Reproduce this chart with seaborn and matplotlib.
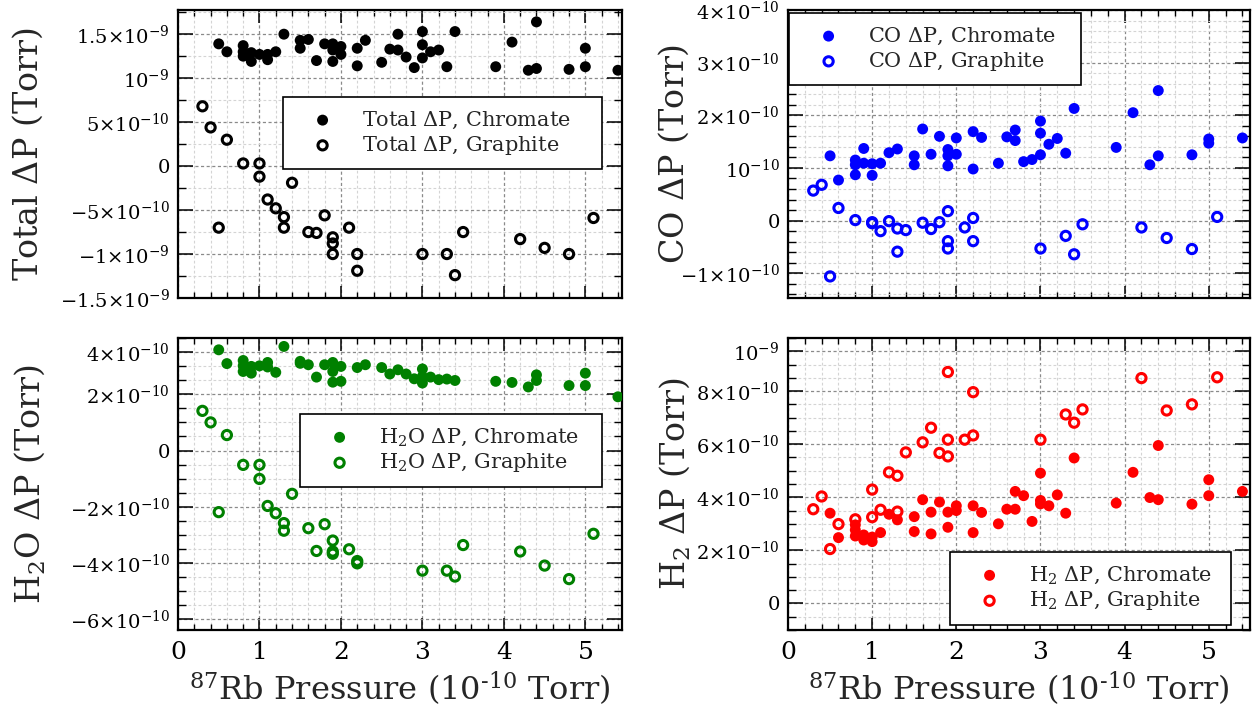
import matplotlib
matplotlib.use("Agg")
import matplotlib.pyplot as plt
from matplotlib.ticker import MultipleLocator
import seaborn as sns
import pandas as pd

sns.set_style("white")
plt.rcParams['font.family'] = ['DejaVu Serif']
plt.rcParams['mathtext.fontset'] = 'dejavuserif'

# x: 87Rb pressure (1e-10 Torr); y values in units of 1e-10 Torr
total_chr_x = [0.5, 0.6, 0.8, 0.8, 0.8, 0.9, 0.9, 1.0, 1.1, 1.1, 1.2, 1.3, 1.5, 1.5, 1.6, 1.7, 1.8, 1.9, 1.9, 1.9,
               2.0, 2.0, 2.2, 2.2, 2.3, 2.5, 2.6, 2.7, 2.7, 2.8, 2.9, 3.0, 3.0, 3.0, 3.1, 3.2, 3.3, 3.4, 3.9, 4.1,
               4.3, 4.4, 4.4, 4.8, 5.0, 5.0, 5.4]
total_chr_y = [13.9, 13.0, 13.7, 13.0, 12.5, 12.9, 11.9, 12.7, 12.7, 12.1, 13.0, 15.0, 14.3, 13.4, 14.4, 12.0, 13.9,
               13.9, 13.2, 11.9, 13.6, 12.7, 13.4, 11.4, 14.3, 11.8, 13.3, 15.0, 13.2, 12.4, 11.2, 15.3, 13.8, 12.3,
               13.0, 13.2, 11.3, 15.3, 11.3, 14.1, 10.9, 16.4, 11.1, 11.0, 13.4, 11.3, 10.9]
gra_x = [0.3, 0.4, 0.5, 0.6, 0.8, 1.0, 1.0, 1.1, 1.2, 1.3, 1.3, 1.4, 1.6, 1.7, 1.8, 1.9, 1.9, 1.9, 2.1, 2.2, 2.2,
         3.0, 3.3, 3.4, 3.5, 4.2, 4.5, 4.8, 5.1]
total_gra_y = [6.8, 4.4, -7.0, 3.0, 0.3, 0.3, -1.2, -3.8, -4.8, -5.8, -7.0, -1.9, -7.5, -7.6, -5.6, -8.1, -8.8,
               -10.0, -7.0, -10.0, -11.9, -10.0, -10.0, -12.4, -7.5, -8.3, -9.3, -10.0, -5.9]

co_chr_x = [0.5, 0.6, 0.8, 0.8, 0.8, 0.9, 0.9, 1.0, 1.0, 1.1, 1.2, 1.3, 1.5, 1.5, 1.6, 1.7, 1.8, 1.9, 1.9, 1.9,
            2.0, 2.0, 2.2, 2.2, 2.3, 2.5, 2.6, 2.7, 2.7, 2.8, 2.9, 3.0, 3.0, 3.0, 3.1, 3.2, 3.3, 3.4, 3.9, 4.1,
            4.3, 4.4, 4.4, 4.8, 5.0, 5.0, 5.4]
co_chr_y = [1.23, 0.77, 1.15, 1.06, 0.87, 1.37, 1.09, 1.08, 0.86, 1.09, 1.29, 1.36, 1.23, 1.06, 1.74, 1.26, 1.60,
            1.35, 1.23, 1.04, 1.57, 1.26, 1.69, 0.98, 1.58, 1.09, 1.59, 1.72, 1.52, 1.12, 1.16, 1.89, 1.66, 1.25,
            1.45, 1.56, 1.28, 2.13, 1.39, 2.05, 1.06, 2.47, 1.23, 1.25, 1.55, 1.47, 1.57]
co_gra_y = [0.57, 0.68, -1.06, 0.24, 0.01, -0.03, -0.05, -0.20, -0.01, -0.15, -0.59, -0.18, -0.04, -0.16, -0.03,
            0.18, -0.39, -0.53, -0.13, 0.05, -0.39, -0.53, -0.29, -0.64, -0.07, -0.13, -0.33, -0.54, 0.07]

h2o_chr_x = [0.5, 0.6, 0.8, 0.8, 0.8, 0.9, 0.9, 1.0, 1.1, 1.1, 1.2, 1.3, 1.5, 1.5, 1.6, 1.7, 1.8, 1.9, 1.9, 1.9,
             2.0, 2.0, 2.2, 2.3, 2.5, 2.6, 2.7, 2.8, 2.9, 3.0, 3.0, 3.0, 3.1, 3.2, 3.3, 3.4, 3.9, 4.1, 4.3, 4.4,
             4.4, 4.8, 5.0, 5.0, 5.4]
h2o_chr_y = [3.58, 3.09, 3.20, 3.01, 2.81, 2.99, 2.75, 3.01, 3.13, 2.97, 2.78, 3.70, 3.17, 3.10, 3.05, 2.61, 3.05,
             3.13, 2.81, 2.43, 2.99, 2.46, 2.95, 3.05, 2.95, 2.72, 2.87, 2.72, 2.55, 2.90, 2.63, 2.40, 2.61, 2.52,
             2.54, 2.49, 2.46, 2.42, 2.26, 2.69, 2.49, 2.31, 2.75, 2.31, 1.91]
h2o_gra_y = [1.41, 1.00, -2.19, 0.55, -0.51, -0.51, -1.01, -1.97, -2.23, -2.58, -2.85, -1.54, -2.76, -3.57, -2.62,
             -3.20, -3.59, -3.67, -3.51, -3.93, -4.01, -4.27, -4.27, -4.48, -3.36, -3.59, -4.09, -4.57, -2.96]

h2_chr_x = [0.5, 0.6, 0.8, 0.8, 0.8, 0.9, 0.9, 1.0, 1.0, 1.1, 1.2, 1.3, 1.5, 1.5, 1.6, 1.7, 1.7, 1.8, 1.9, 1.9,
            2.0, 2.0, 2.2, 2.2, 2.3, 2.5, 2.6, 2.7, 2.7, 2.8, 2.9, 3.0, 3.0, 3.0, 3.1, 3.2, 3.3, 3.4, 3.9, 4.1,
            4.3, 4.4, 4.4, 4.8, 5.0, 5.0, 5.4]
h2_chr_y = [3.40, 2.48, 2.96, 2.77, 2.54, 2.58, 2.39, 2.33, 2.50, 2.67, 3.36, 3.15, 3.27, 2.71, 3.91, 3.44, 2.62,
            3.82, 3.44, 2.87, 3.68, 3.50, 3.68, 2.67, 3.43, 3.00, 3.55, 4.22, 3.55, 4.06, 3.09, 4.91, 3.88, 3.75,
            3.68, 4.09, 3.40, 5.48, 3.78, 4.94, 3.99, 5.95, 3.91, 3.74, 4.66, 4.06, 4.22]
h2_gra_y = [3.55, 4.03, 2.05, 2.99, 3.17, 4.29, 3.25, 3.53, 4.94, 4.81, 3.46, 5.69, 6.07, 6.62, 5.67, 8.72, 6.17,
            5.54, 6.17, 7.96, 6.33, 6.17, 7.12, 6.81, 7.31, 8.49, 7.27, 7.50, 8.52]

# y tick positions (Torr) and labels as printed on the chart
total_ticks = [1.5e-9, 1e-9, 5e-10, 0, -5e-10, -1e-9, -1.5e-9]
total_labels = [r"$1.5{\times}10^{-9}$", r"$10^{-9}$", r"$5{\times}10^{-10}$", "0",
                r"$-5{\times}10^{-10}$", r"$-1{\times}10^{-9}$", r"$-1.5{\times}10^{-9}$"]
co_ticks = [4e-10, 3e-10, 2e-10, 1e-10, 0, -1e-10]
co_labels = [r"$4{\times}10^{-10}$", r"$3{\times}10^{-10}$", r"$2{\times}10^{-10}$", r"$10^{-10}$", "0",
             r"$-1{\times}10^{-10}$"]
h2o_ticks = [3.5e-10, 2e-10, 0, -2e-10, -4e-10, -6e-10]
h2o_labels = [r"$4{\times}10^{-10}$", r"$2{\times}10^{-10}$", "0", r"$-2{\times}10^{-10}$",
              r"$-4{\times}10^{-10}$", r"$-6{\times}10^{-10}$"]
h2_ticks = [9.5e-10, 8e-10, 6e-10, 4e-10, 2e-10, 0]
h2_labels = [r"$10^{-9}$", r"$8{\times}10^{-10}$", r"$6{\times}10^{-10}$", r"$4{\times}10^{-10}$",
             r"$2{\times}10^{-10}$", "0"]

W, H = 1257, 717
fig = plt.figure(figsize=(W / 100, H / 100), dpi=100)


def make_ax(l, t, r, b):
    return fig.add_axes([l / W, 1 - b / H, (r - l) / W, (b - t) / H])


def panel(ax, cx, cy, gy, color, name, ticks, labels, ylim, yminor, xmax, leg_box, ylab_x, bottom):
    cdf = pd.DataFrame({"x": cx, "y": [v * 1e-10 for v in cy]})
    gdf = pd.DataFrame({"x": gra_x, "y": [v * 1e-10 for v in gy]})
    sns.scatterplot(data=cdf, x="x", y="y", ax=ax, color=color, s=62, edgecolor="none",
                    label=name + r" $\Delta$P, Chromate", zorder=3)
    sns.scatterplot(data=gdf, x="x", y="y", ax=ax, s=44, facecolors="none", edgecolor=color,
                    linewidth=2.2, label=name + r" $\Delta$P, Graphite", zorder=3)
    ax.set_xlim(0, xmax)
    ax.set_ylim(*ylim)
    ax.set_xticks([0, 1, 2, 3, 4, 5])
    ax.xaxis.set_minor_locator(MultipleLocator(0.2))
    ax.set_yticks(ticks, labels)
    ax.yaxis.set_minor_locator(MultipleLocator(yminor))
    ax.set_axisbelow(True)
    ax.grid(which="major", color="#8a8a8a", linestyle=(0, (2.5, 2)), linewidth=0.9)
    ax.grid(which="minor", color="#d4d4d4", linestyle=(0, (2.5, 2)), linewidth=0.8)
    ax.tick_params(which="both", direction="in", bottom=True, left=True, top=True, right=True,
                   colors="black")
    ax.tick_params(axis="x", which="major", length=9, width=1.1, labelsize=18, pad=8)
    ax.tick_params(axis="x", which="minor", length=4.5, width=1.0)
    ax.tick_params(axis="y", which="major", length=11, width=1.1, labelsize=14, pad=6)
    ax.tick_params(axis="y", which="minor", length=5.5, width=1.0)
    for sp in ax.spines.values():
        sp.set_linewidth(1.6)
        sp.set_color("black")
    ax.set_ylabel(name + r" $\Delta$P (Torr)", fontsize=24)
    ax.yaxis.set_label_coords(ylab_x, 0.5)
    if bottom:
        ax.set_xlabel(r"$^{87}$Rb Pressure (10$^{\text{-10}}$ Torr)", fontsize=23)
    else:
        ax.set_xlabel("")
        ax.tick_params(labelbottom=False)
    l, t, r, b = leg_box
    leg = ax.legend(loc="upper left", bbox_to_anchor=(l / W, 1 - b / H, (r - l) / W, (b - t) / H),
                    bbox_transform=fig.transFigure, mode="expand", borderaxespad=0, fontsize=15,
                    frameon=True, fancybox=False, framealpha=1, edgecolor="black", borderpad=0.6,
                    handlelength=2.6, handletextpad=0.6, labelspacing=0.15)
    leg.get_frame().set_linewidth(1.2)


ax1 = make_ax(178, 10, 622, 298)
panel(ax1, total_chr_x, total_chr_y, total_gra_y, "black", "Total", total_ticks, total_labels,
      (-1.5e-9, 1.775e-9), 2.5e-10, 5.45, (283, 97, 602, 173), -0.3, False)

ax2 = make_ax(788, 10, 1250, 298)
panel(ax2, co_chr_x, co_chr_y, co_gra_y, "#0000ff", "CO", co_ticks, co_labels,
      (-1.47e-10, 3.96e-10), 2e-11, 5.49, (789, 13, 1081, 90), -0.21, False)

ax3 = make_ax(178, 338, 622, 630)
panel(ax3, h2o_chr_x, h2o_chr_y, h2o_gra_y, "#008000", r"H$_2$O", h2o_ticks, h2o_labels,
      (-6.38e-10, 4e-10), 5e-11, 5.45, (300, 414, 602, 491), -0.295, True)

ax4 = make_ax(788, 338, 1250, 630)
panel(ax4, h2_chr_x, h2_chr_y, h2_gra_y, "#ff0000", r"H$_2$", h2_ticks, h2_labels,
      (-1.0e-10, 1.0e-9), 5e-11, 5.49, (950, 552, 1231, 629), -0.208, True)

fig.savefig("out.png", dpi=100)
